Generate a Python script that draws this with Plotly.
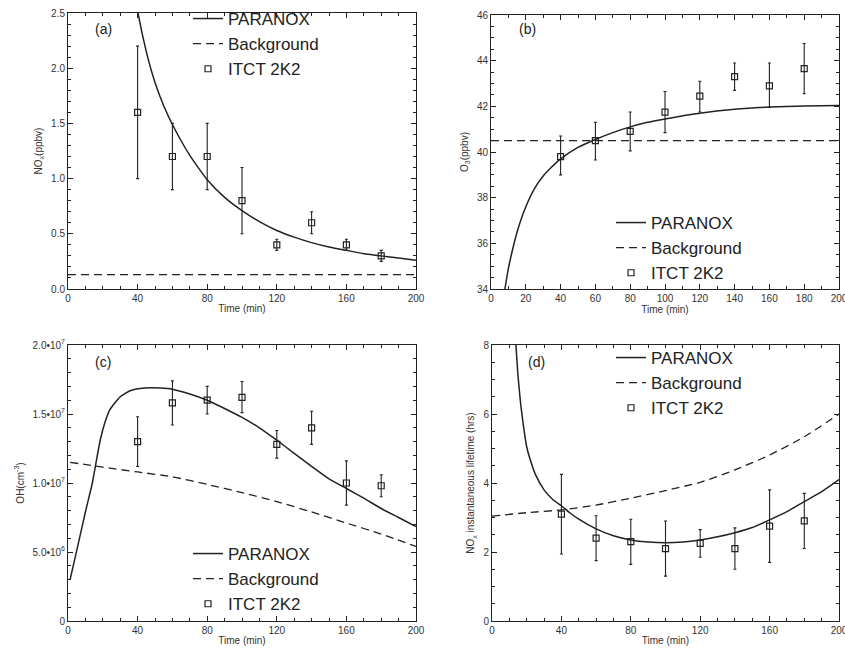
import plotly.graph_objects as go

# ---------------- data ----------------
obs_t = [40, 60, 80, 100, 120, 140, 160, 180]

# (a) NOx (ppbv)
a_obs = [1.6, 1.2, 1.2, 0.8, 0.4, 0.6, 0.4, 0.3]
a_hi = [2.2, 1.5, 1.5, 1.1, 0.45, 0.7, 0.45, 0.35]
a_lo = [1.0, 0.9, 0.9, 0.5, 0.35, 0.5, 0.35, 0.25]
a_mod_t = [39, 40, 45, 50, 55, 60, 70, 80, 90, 100, 110, 120, 130, 140, 150, 160, 170, 180, 190, 200]
a_mod = [2.62, 2.52, 2.15, 1.87, 1.66, 1.49, 1.21, 0.99, 0.83, 0.71, 0.61, 0.53, 0.47, 0.42, 0.38, 0.35, 0.32, 0.30, 0.28, 0.26]
a_bg_t = [0, 200]
a_bg = [0.13, 0.13]

# (b) O3 (ppbv)
b_obs = [39.8, 40.5, 40.9, 41.75, 42.45, 43.3, 42.9, 43.65]
b_hi = [40.7, 41.3, 41.75, 42.65, 43.1, 43.9, 43.9, 44.75]
b_lo = [39.0, 39.65, 40.05, 40.85, 41.75, 42.7, 41.95, 42.55]
b_mod_t = [8, 10, 12, 15, 20, 25, 30, 35, 40, 50, 60, 70, 80, 90, 100, 120, 140, 160, 180, 200]
b_mod = [34.0, 34.9, 35.6, 36.5, 37.6, 38.4, 38.95, 39.35, 39.7, 40.2, 40.55, 40.85, 41.1, 41.3, 41.45, 41.7, 41.87, 41.97, 42.02, 42.04]
b_bg_t = [0, 200]
b_bg = [40.5, 40.5]

# (c) OH (cm-3)
c_obs = [13.0e6, 15.8e6, 16.0e6, 16.2e6, 12.8e6, 14.0e6, 10.0e6, 9.8e6]
c_hi = [14.8e6, 17.4e6, 17.0e6, 17.35e6, 13.8e6, 15.2e6, 11.6e6, 10.6e6]
c_lo = [11.2e6, 14.2e6, 15.0e6, 15.1e6, 11.8e6, 12.8e6, 8.4e6, 9.0e6]
c_mod_t = [1.2, 5, 10, 14, 16, 18.5, 21, 24, 30, 36, 44, 53, 60, 70, 80, 90, 100, 110, 120, 130, 140, 150, 160, 170, 180, 190, 200]
c_mod = [3.0e6, 5.1e6, 7.9e6, 10.0e6, 11.4e6, 13.1e6, 14.3e6, 15.3e6, 16.25e6, 16.7e6, 16.88e6, 16.88e6, 16.8e6,
         16.45e6, 16.0e6, 15.4e6, 14.75e6, 14.0e6, 13.1e6, 12.15e6, 11.2e6, 10.3e6, 9.6e6, 8.9e6, 8.15e6, 7.5e6, 6.85e6]
c_bg_t = [1.2, 20, 40, 60, 80, 100, 120, 140, 160, 180, 200]
c_bg = [11.5e6, 11.15e6, 10.8e6, 10.45e6, 9.9e6, 9.3e6, 8.65e6, 7.9e6, 7.1e6, 6.3e6, 5.4e6]

# (d) NOx instantaneous lifetime (hrs)
d_obs = [3.1, 2.4, 2.3, 2.1, 2.25, 2.1, 2.75, 2.9]
d_hi = [4.25, 3.05, 2.95, 2.9, 2.65, 2.7, 3.8, 3.7]
d_lo = [1.94, 1.75, 1.64, 1.3, 1.85, 1.5, 1.7, 2.1]
d_mod_t = [13.8, 15, 16.5, 18, 20, 22.5, 25, 30, 35, 40, 45, 50, 60, 70, 80, 90, 100, 110, 120, 130, 140, 150, 160, 170, 180, 190, 200]
d_mod = [8.0, 7.1, 6.3, 5.7, 5.05, 4.6, 4.25, 3.8, 3.52, 3.34, 3.13, 2.95, 2.67, 2.47, 2.35, 2.29, 2.27, 2.29, 2.35, 2.44, 2.56, 2.71, 2.93, 3.17, 3.46, 3.75, 4.1]
d_bg_t = [0, 20, 40, 60, 80, 100, 120, 140, 160, 180, 200]
d_bg = [3.04, 3.14, 3.22, 3.36, 3.56, 3.78, 4.02, 4.38, 4.81, 5.34, 6.0]

# ---------------- figure ----------------
W, H = 845, 649
FONT = "Liberation Sans, Arial, sans-serif"
INK = "#222222"

fig = go.Figure()

panels = [
    ("a", "x", "y", "legend", a_obs, a_hi, a_lo, a_mod_t, a_mod, a_bg_t, a_bg),
    ("b", "x2", "y2", "legend2", b_obs, b_hi, b_lo, b_mod_t, b_mod, b_bg_t, b_bg),
    ("c", "x3", "y3", "legend3", c_obs, c_hi, c_lo, c_mod_t, c_mod, c_bg_t, c_bg),
    ("d", "x4", "y4", "legend4", d_obs, d_hi, d_lo, d_mod_t, d_mod, d_bg_t, d_bg),
]

for key, xa, ya, lg, obs, hi, lo, mt, mv, bt, bv in panels:
    fig.add_trace(go.Scatter(x=mt, y=mv, mode="lines", name="PARANOX",
                             line=dict(color=INK, width=1.5, shape="spline", smoothing=0.5),
                             xaxis=xa, yaxis=ya, legend=lg, cliponaxis=True))
    fig.add_trace(go.Scatter(x=bt, y=bv, mode="lines", name="Background",
                             line=dict(color=INK, width=1.3, dash="8px,5px", shape="spline", smoothing=0.6),
                             xaxis=xa, yaxis=ya, legend=lg))
    fig.add_trace(go.Scatter(x=obs_t, y=obs, mode="markers", name="ITCT 2K2",
                             marker=dict(symbol="square-open", size=6, color=INK, line=dict(width=1.2, color=INK)),
                             error_y=dict(type="data", symmetric=False,
                                          array=[h - o for h, o in zip(hi, obs)],
                                          arrayminus=[o - l for o, l in zip(obs, lo)],
                                          color=INK, thickness=1.1, width=1.5),
                             xaxis=xa, yaxis=ya, legend=lg))

def px_x(p):
    return p / W

def px_y(p):
    return 1 - p / H

dom = {
    "a": ([68, 416], [13, 289]),
    "b": ([491, 839], [15, 289]),
    "c": ([68, 416], [345, 621]),
    "d": ([492, 839], [345, 621]),
}

tickfont = dict(family=FONT, size=10, color="#333333")
titlefont = dict(family=FONT, size=10, color="#333333")

def xaxis_cfg(key, dtick, minor_dtick, anchor):
    (x0, x1), (y0, y1) = dom[key]
    return dict(domain=[px_x(x0), px_x(x1)], anchor=anchor, range=[0, 200], automargin=False,
                tickmode="linear", tick0=0, dtick=dtick, ticks="inside", ticklen=5, tickwidth=1,
                tickcolor=INK, showline=True, linecolor=INK, linewidth=1, mirror="ticks",
                showgrid=False, zeroline=False, tickfont=tickfont, ticklabeloverflow="allow",
                minor=dict(ticks="inside", ticklen=3, dtick=minor_dtick, tickcolor=INK, showgrid=False),
                title=dict(text="Time (min)", font=titlefont, standoff=1))

def yaxis_cfg(key, rng, anchor, title, dtick, minor_dtick, standoff, **kw):
    (x0, x1), (y0, y1) = dom[key]
    d = dict(domain=[px_y(y1), px_y(y0)], anchor=anchor, range=rng, automargin=False,
             ticks="inside", ticklen=5, tickwidth=1, tickcolor=INK,
             showline=True, linecolor=INK, linewidth=1, mirror="ticks",
             showgrid=False, zeroline=False, tickfont=tickfont, ticklabeloverflow="allow",
             minor=dict(ticks="inside", ticklen=3, dtick=minor_dtick, tickcolor=INK, showgrid=False),
             title=dict(text=title, font=titlefont, standoff=standoff))
    if dtick is not None:
        d.update(tickmode="linear", tick0=rng[0], dtick=dtick)
    d.update(kw)
    return d

c_tickvals = [0, 5e6, 10e6, 15e6, 20e6]
c_ticktext = ["0", "5.0•10<sup>6</sup>", "1.0•10<sup>7</sup>", "1.5•10<sup>7</sup>", "2.0•10<sup>7</sup>"]

fig.update_layout(
    width=W, height=H, margin=dict(l=0, r=0, t=0, b=0, autoexpand=False),
    paper_bgcolor="white", plot_bgcolor="white",
    font=dict(family=FONT, color=INK),
    xaxis=xaxis_cfg("a", 40, 10, "y"),
    xaxis2=xaxis_cfg("b", 20, 10, "y2"),
    xaxis3=xaxis_cfg("c", 40, 10, "y3"),
    xaxis4=xaxis_cfg("d", 40, 10, "y4"),
    yaxis=yaxis_cfg("a", [0, 2.5], "x", "NO<sub>x</sub>(ppbv)", 0.5, 0.1, 6, tickformat=".1f"),
    yaxis2=yaxis_cfg("b", [34, 46], "x2", "O<sub>3</sub>(ppbv)", 2, 0.5, 6),
    yaxis3=yaxis_cfg("c", [0, 2e7], "x3", "OH(cm<sup>-3</sup>)", None, 1e6, 6,
                     tickmode="array", tickvals=c_tickvals, ticktext=c_ticktext),
    yaxis4=yaxis_cfg("d", [0, 8], "x4", "NO<sub>x</sub> instantaneous lifetime (hrs)", 2, 0.5, 6),
)

leg_common = dict(font=dict(family=FONT, size=17, color=INK), bgcolor="rgba(0,0,0,0)",
                  xanchor="left", yanchor="top", tracegroupgap=0, itemwidth=30)
fig.update_layout(
    legend=dict(x=px_x(188), y=px_y(1), **leg_common),
    legend2=dict(x=px_x(611), y=px_y(205), **leg_common),
    legend3=dict(x=px_x(188), y=px_y(536), **leg_common),
    legend4=dict(x=px_x(611), y=px_y(340), **leg_common),
)

labels = [("(a)", 93, 29), ("(b)", 517, 29), ("(c)", 93, 362), ("(d)", 526, 362)]
for txt, x, y in labels:
    fig.add_annotation(text=txt, xref="paper", yref="paper", x=px_x(x), y=px_y(y),
                       xanchor="left", yanchor="middle", showarrow=False,
                       font=dict(family=FONT, size=14, color=INK))

fig.write_html("out.html", config={"displayModeBar": False},
               post_script="document.body.style.margin='0';document.body.style.overflow='hidden';")
